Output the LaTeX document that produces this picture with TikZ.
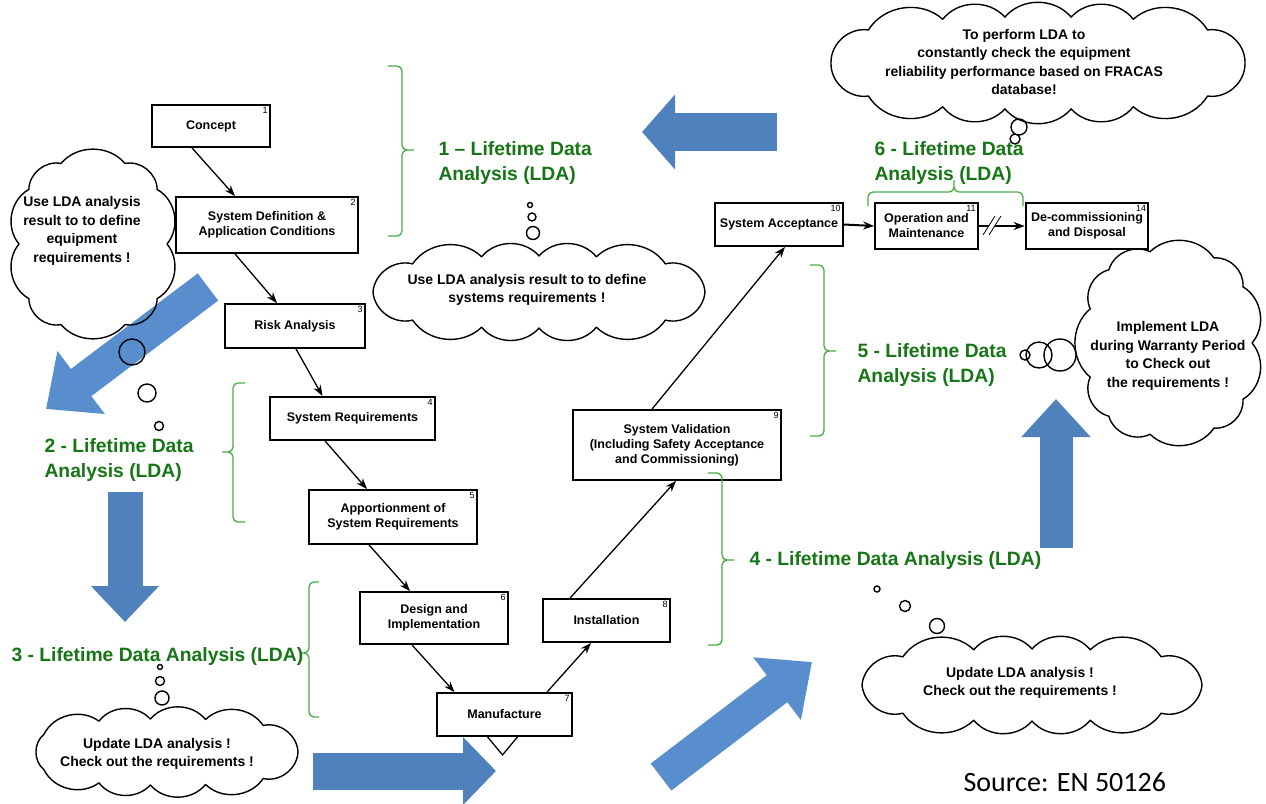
\documentclass[tikz,border=0pt]{standalone}
\usepackage{fontspec}
\setmainfont{Liberation Sans}
\newfontfamily\srcfont{Carlito}
\usetikzlibrary{arrows.meta}

\definecolor{ldagreen}{RGB}{22,118,22}
\definecolor{bracegreen}{RGB}{72,170,72}
\definecolor{blueA}{RGB}{79,129,189}
\definecolor{blueB}{RGB}{88,142,205}

% cloud outline: centre x, centre y, half axes a and b, number of puffs
\newcommand{\cloudoutline}[5]{%
	\pgfmathsetmacro{\cshape}{(#3-#4)/(#3+#4)}%
	\draw[cloudline] ({#1+#3},{#2})
	\foreach \k [evaluate=\k as \ang using {360*\k/#5+\cshape*28.648*sin(720*\k/#5)}] in {1,...,#5}
	{ to[bend left=50] ({#1+#3*sign(cos(\ang))*pow(abs(cos(\ang))+0.0001,0.75)},{#2+#4*sign(sin(\ang))*pow(abs(sin(\ang))+0.0001,0.75)}) };%
}

\begin{document}
\begin{tikzpicture}[x=1pt, y=-1pt, >={Stealth[length=11pt,width=8pt]},
	stage/.style={draw, line width=1.8pt, align=center, inner sep=2pt,
		font=\bfseries\fontsize{12.5}{15}\selectfont},
	num/.style={anchor=north east, inner sep=3pt, font=\fontsize{9}{9}\selectfont},
	flow/.style={->, line width=1.3pt},
	cloudline/.style={draw, line width=1.4pt, line join=round},
	cloudtext/.style={align=center, font=\bfseries\fontsize{14}{18.5}\selectfont},
	bubble/.style={draw, line width=1.4pt},
	ldabrace/.style={draw=bracegreen, line width=1.3pt, rounded corners=5pt},
	ldalabel/.style={anchor=west, text=ldagreen, align=left,
		font=\bfseries\fontsize{19.3}{25}\selectfont},
	bigarrow/.style={draw=#1},
	]
	
	\useasboundingbox (0,0) rectangle (1266,803);
	
	% --- big blue arrows (drawn first, behind everything) ---
	\draw[bigarrow=blueA, line width=38pt, -{Triangle[width=73pt,length=33pt]}] (777,132) -- (642,132);
	\draw[bigarrow=blueB, line width=34pt, -{Triangle[width=76pt,length=44pt]}] (208,287) -- (46,409);
	\draw[bigarrow=blueA, line width=35pt, -{Triangle[width=66pt,length=36pt]}] (125,492) -- (125,622);
	\draw[bigarrow=blueA, line width=37pt, -{Triangle[width=66pt,length=33pt]}] (313,771) -- (496,771);
	\draw[bigarrow=blueB, line width=34pt, -{Triangle[width=76pt,length=44pt]}] (661,777) -- (812,662);
	\draw[bigarrow=blueA, line width=33pt, -{Triangle[width=67pt,length=38pt]}] (1056,548) -- (1056,399);
	
	% --- life cycle phases ---
	\node[stage, minimum width=118pt, minimum height=42pt] (concept) at (211,126) {Concept};
	\node[num] at (concept.north east) {1};
	\node[stage, minimum width=182pt, minimum height=56pt] (sysdef) at (267,225) {System Definition \&\\Application Conditions};
	\node[num] at (sysdef.north east) {2};
	\node[stage, minimum width=140pt, minimum height=44pt] (risk) at (295,326) {Risk Analysis};
	\node[num] at (risk.north east) {3};
	\node[stage, minimum width=165pt, minimum height=43pt] (sysreq) at (352.5,418.5) {System Requirements};
	\node[num] at (sysreq.north east) {4};
	\node[stage, minimum width=168pt, minimum height=54pt] (apport) at (393,517) {Apportionment of\\System Requirements};
	\node[num] at (apport.north east) {5};
	\node[stage, minimum width=148pt, minimum height=52pt] (design) at (434,618) {Design and\\Implementation};
	\node[num] at (design.north east) {6};
	\node[stage, minimum width=135pt, minimum height=43pt] (manuf) at (504.5,714.5) {Manufacture};
	\node[num] at (manuf.north east) {7};
	\node[stage, minimum width=127pt, minimum height=43pt] (install) at (606.5,620.5) {Installation};
	\node[num] at (install.north east) {8};
	\node[stage, minimum width=208pt, minimum height=70pt] (valid) at (677,445) {System Validation\\(Including Safety Acceptance\\and Commissioning)};
	\node[num] at (valid.north east) {9};
	\node[stage, minimum width=128pt, minimum height=43pt] (accept) at (779,224.5) {System Acceptance};
	\node[num] at (accept.north east) {10};
	\node[stage, minimum width=103pt, minimum height=46pt] (operate) at (926.5,226) {Operation and\\Maintenance};
	\node[num] at (operate.north east) {11};
	\node[stage, line width=2.6pt, minimum width=122pt, minimum height=46pt] (decom) at (1087,226) {De-commissioning\\and Disposal};
	\node[num] at (decom.north east) {14};
	
	\draw[flow] ([xshift=-19pt]concept.south) -- ([xshift=-32pt]sysdef.north);
	\draw[flow] ([xshift=-32pt]sysdef.south) -- ([xshift=-18pt]risk.north);
	\draw[flow] ([xshift=1pt]risk.south) -- ([xshift=-30pt]sysreq.north);
	\draw[flow] ([xshift=-27.5pt]sysreq.south) -- ([xshift=-26pt]apport.north);
	\draw[flow] ([xshift=-24pt]apport.south) -- ([xshift=-24pt]design.north);
	\draw[flow] ([xshift=-22pt]design.south) -- ([xshift=-50pt]manuf.north);
	\draw[flow] ([xshift=42.5pt]manuf.north) -- ([xshift=-15.5pt]install.south);
	\draw[flow] ([xshift=-36.5pt]install.north) -- ([xshift=-1pt]valid.south);
	\draw[flow] ([xshift=-25pt]valid.north) -- ([xshift=6pt]accept.south);
	\draw[flow, line width=2pt] (accept.east) -- (operate.west);
	\draw[flow, line width=2pt] (operate.east) -- (decom.west);
	\fill[white] (985,234) -- (991,234) -- (1000,216) -- (994,216) -- cycle;
	\draw[line width=0.8pt] (983,235) -- (995,216) (989,235) -- (1001,216);
	\draw[line width=1.3pt] ([xshift=-17pt]manuf.south) -- ++(15,18) -- ++(15,-18);
	
	% --- LDA braces and labels ---
	\draw[ldabrace] (388,66) -| (402,150) -- (414,150) (388,236) -| (402,150) -- (414,150);
	\node[ldalabel] (lda1) at (435,163) {1 -- Lifetime Data\\Analysis (LDA)};
	\draw[ldabrace] (245,383) -| (233,452) -- (222,452) (245,522) -| (233,452) -- (222,452);
	\node[ldalabel] (lda2) at (41,460) {2 - Lifetime Data\\Analysis (LDA)};
	\draw[ldabrace] (319,582) -| (309,653) -- (301,653) (319,717) -| (309,653) -- (301,653);
	\node[ldalabel] (lda3) at (8,657) {3 - Lifetime Data Analysis (LDA)};
	\draw[ldabrace] (708,473) -| (722,560) -- (734,560) (708,645) -| (722,560) -- (734,560);
	\node[ldalabel] (lda4) at (746,561) {4 - Lifetime Data Analysis (LDA)};
	\draw[ldabrace] (810,265) -| (824,351) -- (836,351) (810,436) -| (824,351) -- (836,351);
	\node[ldalabel] (lda5) at (854,365) {5 - Lifetime Data\\Analysis (LDA)};
	\draw[ldabrace] (868,206) |- (954,192) -- (954,180) (1023,206) |- (954,192) -- (954,180);
	\node[ldalabel] (lda6) at (871,163) {6 - Lifetime Data\\Analysis (LDA)};
	
	% --- thought clouds ---
	\cloudoutline{93}{244}{74}{84}{10}
	\node[cloudtext] (note1) at (82,231) {Use LDA analysis\\result to to define\\equipment\\requirements !};
	\cloudoutline{539}{292}{166}{36}{12}
	\node[cloudtext] (note2) at (527,290) {Use LDA analysis result to to define\\systems requirements !};
	\cloudoutline{1038}{63}{207}{46}{14}
	\node[cloudtext] (note3) at (1024,62) {To perform LDA to\\constantly check the equipment\\reliability performance based on FRACAS\\database!};
	\cloudoutline{1170}{343}{82}{92}{11}
	\node[cloudtext] (note4) at (1168,356) {Implement LDA\\during Warranty Period\\to Check out\\the requirements !};
	\cloudoutline{166}{752}{132}{33}{11}
	\node[cloudtext] (note5) at (157,754) {Update LDA analysis !\\Check out the requirements !};
	\cloudoutline{1032}{685}{170}{36}{12}
	\node[cloudtext] (note6) at (1020,683) {Update LDA analysis !\\Check out the requirements !};
	
	% bubbles
	\draw[bubble] (530,205) circle (2.5pt) (532,217) circle (4pt) (533,233) circle (6.5pt);
	\draw[bubble] (132,352) circle (13pt) (147,393) circle (9pt) (159,426) circle (4.5pt);
	\draw[bubble] (1019,127) circle (8pt) (1015,139) circle (5pt);
	\draw[bubble] (1025,355) circle (5pt) (1039,355) circle (13pt) (1060,355) circle (16pt);
	\draw[bubble] (160,667) circle (2.5pt) (160,681) circle (4.5pt) (162,698) circle (7pt);
	\draw[bubble] (877,589) circle (3pt) (905,606) circle (5.5pt) (937,626) circle (7.5pt);
	
	\node[anchor=west, font=\srcfont\fontsize{28}{28}\selectfont] (source) at (960,782) {Source: EN 50126};
	
\end{tikzpicture}
\end{document}
